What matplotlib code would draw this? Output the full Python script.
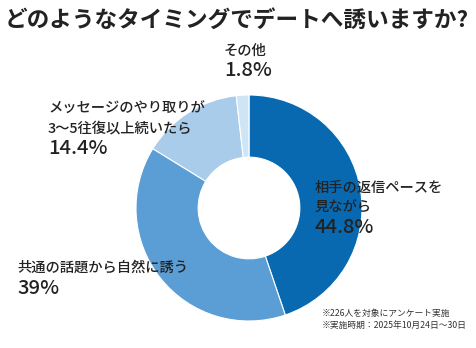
import matplotlib
matplotlib.use("Agg")
from matplotlib import pyplot as plt

plt.rcParams['font.family'] = ['Noto Sans CJK JP', 'DejaVu Sans']

title = "どのようなタイミングでデートへ誘いますか?"
labels = ["相手の返信ペースを\n見ながら", "共通の話題から自然に誘う",
          "メッセージのやり取りが\n3～5往復以上続いたら", "その他"]
values = [44.8, 39, 14.4, 1.8]
pct_text = ["44.8%", "39%", "14.4%", "1.8%"]
colors = ["#0869b1", "#5b9dd5", "#a9cceb", "#cfe5f6"]
notes = ["※226人を対象にアンケート実施", "※実施時期：2025年10月24日～30日"]

W, H = 476, 348
fig = plt.figure(figsize=(W / 100, H / 100), dpi=100)

# donut, centre ~ (249, 208) px, radius ~113 px
ax = fig.add_axes([136 / W, 1 - 321 / H, 226 / W, 226 / H])
ax.pie(values, colors=colors, startangle=90, counterclock=False,
       wedgeprops=dict(width=0.55, edgecolor="white", linewidth=0.8))
ax.set_xlim(-1, 1)
ax.set_ylim(-1, 1)
ax.set_aspect("equal")
ax.axis("off")

fig.text(5 / W, 1 - 20 / H, title, fontsize=16.3, fontweight="bold",
         va="center", ha="left", color="#222222")

# (x, y centre of first line) in pixels
pos = [(315, 188), (17, 268), (48, 109), (224, 51)]
step = 19.5
for lab, pct, (x, y) in zip(labels, pct_text, pos):
    lines = lab.split("\n")
    for i, line in enumerate(lines):
        fig.text(x / W, 1 - (y + i * step) / H, line, fontsize=10.3, fontweight="medium",
                 va="center", ha="left", color="#222222")
    fig.text(x / W, 1 - (y + len(lines) * step + 0.5) / H, pct, fontsize=14.5,
             fontweight="medium", va="center", ha="left", color="#222222")

fig.text(322 / W, 1 - 313 / H, notes[0], fontsize=6.3, va="center", ha="left", color="#333333")
fig.text(322 / W, 1 - 325 / H, notes[1], fontsize=6.3, va="center", ha="left", color="#333333")

fig.savefig("out.png", dpi=100)
